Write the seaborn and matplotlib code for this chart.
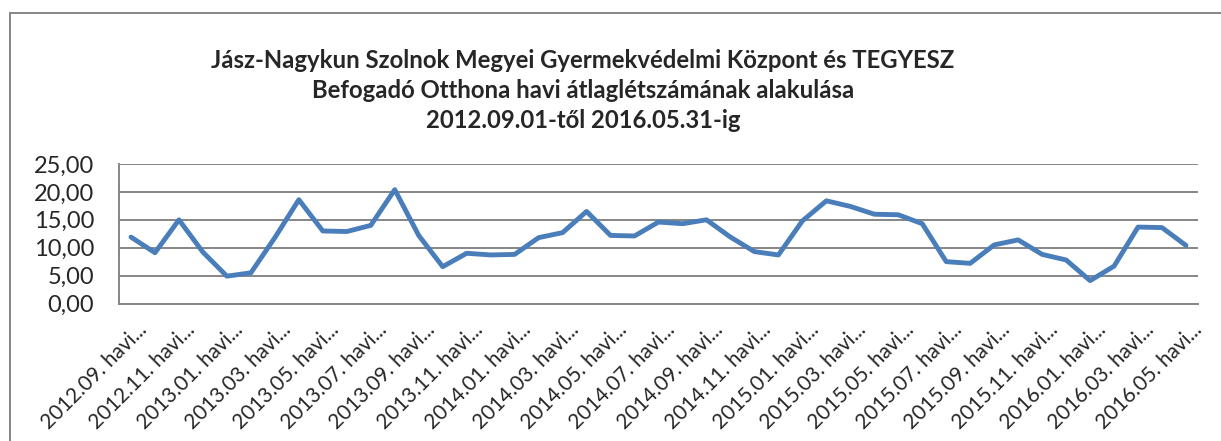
import matplotlib.pyplot as plt
import matplotlib.transforms as mtransforms
from matplotlib.patches import Rectangle
from matplotlib.ticker import FuncFormatter, MultipleLocator
import pandas as pd
import seaborn as sns


title_lines = [
    'Jász-Nagykun Szolnok Megyei Gyermekvédelmi Központ és TEGYESZ',
    'Befogadó Otthona havi átlaglétszámának alakulása',
    '2012.09.01-től 2016.05.31-ig',
]

# months 2012.09 .. 2016.05
months = []
for year in range(2012, 2017):
    for month in range(1, 13):
        if (year, month) < (2012, 9) or (year, month) > (2016, 5):
            continue
        months.append(f'{year}.{month:02d}. havi...')

avg_headcount = [
    11.9, 9.1, 15.0, 9.2, 4.9, 5.5, 11.8, 18.6, 13.0, 12.9, 14.0, 20.4,
    12.2, 6.6, 9.0, 8.7, 8.8, 11.8, 12.7, 16.5, 12.2, 12.1, 14.6, 14.3,
    15.0, 11.9, 9.3, 8.7, 14.8, 18.4, 17.4, 16.0, 15.9, 14.3, 7.5, 7.2,
    10.5, 11.4, 8.8, 7.8, 4.1, 6.7, 13.7, 13.6, 10.4,
]

df = pd.DataFrame({'pos': range(len(months)), 'month': months, 'value': avg_headcount})

sns.set_style('white')
plt.rcParams['font.family'] = ['Lato', 'DejaVu Sans']

fig = plt.figure(figsize=(12.21, 4.41), dpi=100)
ax = fig.add_axes([119 / 1221, 1 - 303.5 / 441, (1198 - 119) / 1221, (303.5 - 164) / 441])

sns.lineplot(data=df, x='pos', y='value', ax=ax, color='#4A7EBB', linewidth=3.5)

ax.set_xlim(-0.5, len(months) - 0.5)
ax.set_ylim(0, 25)
ax.yaxis.set_major_locator(MultipleLocator(5))
ax.yaxis.set_major_formatter(FuncFormatter(lambda v, _: f'{v:.2f}'.replace('.', ',')))
ax.grid(axis='y', color='#868686', linewidth=1.4)
ax.set_axisbelow(True)

# labels on every second month, tick marks between categories
ax.set_xticks(df['pos'][::2])
ax.set_xticklabels(df['month'][::2], rotation=45, ha='right', va='center',
                   rotation_mode='anchor', fontsize=15)
ax.set_xticks([p - 0.5 for p in range(len(months) + 1)], minor=True)
ax.tick_params(axis='x', which='major', length=0, pad=17)
ax.tick_params(axis='x', which='minor', length=6, color='#868686', width=1.4)
ax.tick_params(axis='y', length=6, color='#868686', width=1.4, labelsize=17, pad=12)
offset = mtransforms.ScaledTranslation(13 / 100, 0, fig.dpi_scale_trans)
for lab in ax.get_xticklabels():
    lab.set_transform(lab.get_transform() + offset)

for side in ['top', 'right']:
    ax.spines[side].set_visible(False)
for side in ['left', 'bottom']:
    ax.spines[side].set_color('#868686')
    ax.spines[side].set_linewidth(1.4)

ax.set_xlabel('')
ax.set_ylabel('')

for i, line in enumerate(title_lines):
    fig.text(583 / 1221, 1 - (60 + 30 * i) / 441, line, ha='center', va='center',
             fontsize=17.2, fontweight='bold')

fig.patches.append(Rectangle((10 / 1221, -0.1), 1.2, 1 - 13 / 441 + 0.1,
                             transform=fig.transFigure, fill=False,
                             edgecolor='#868686', linewidth=1.4))

fig.savefig('out.png', dpi=100)
